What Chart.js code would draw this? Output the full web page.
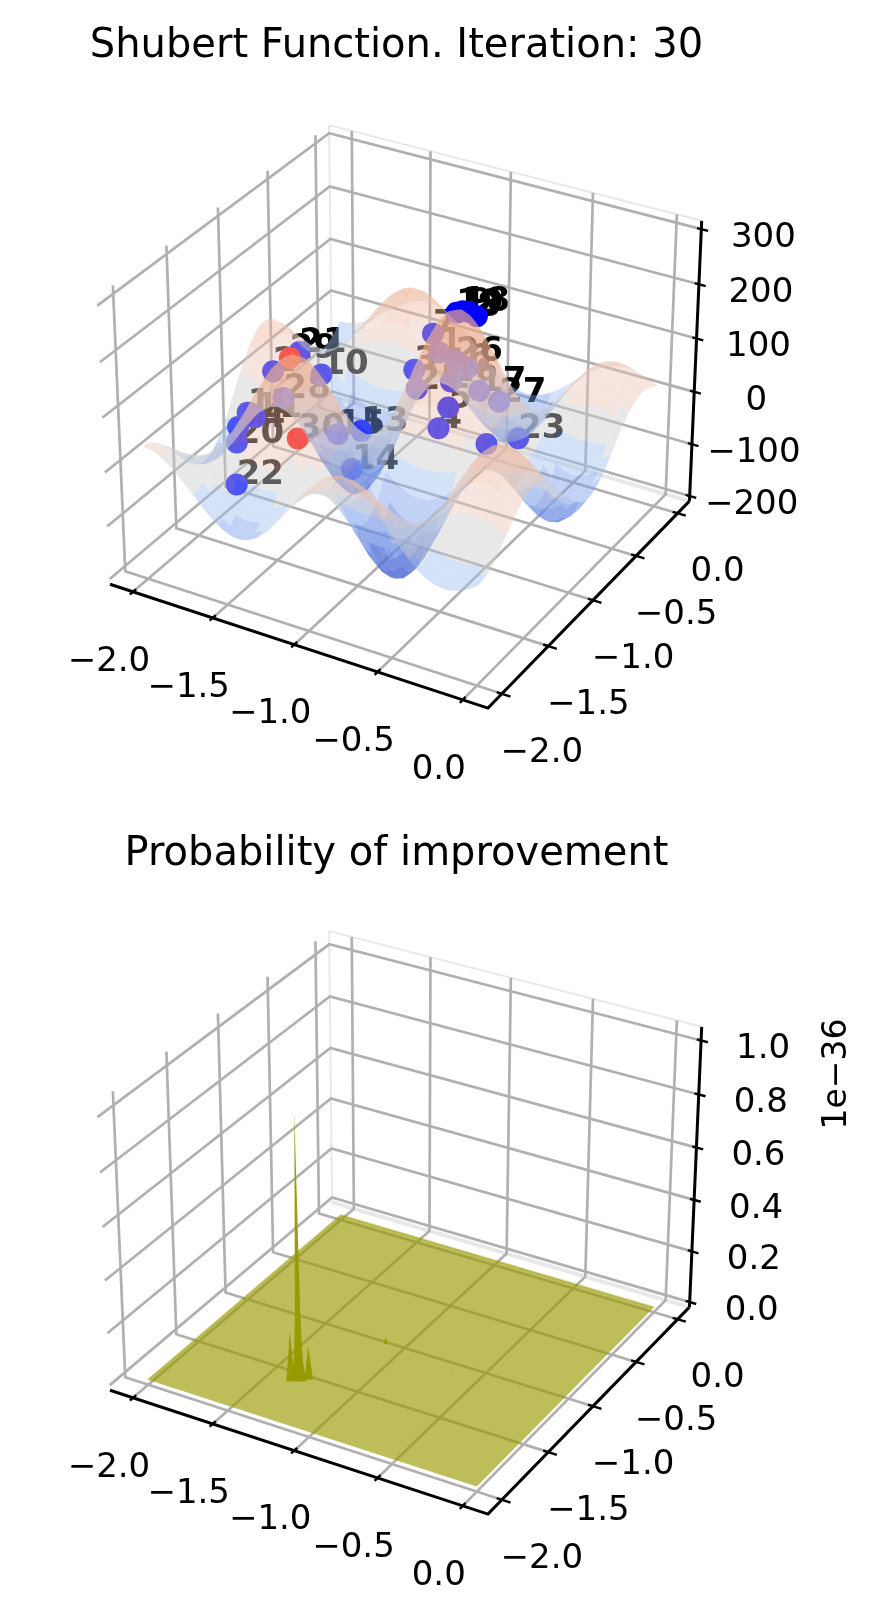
<!DOCTYPE html>
<html>
<head>
<meta charset="utf-8">
<title>Shubert Function</title>
<script src="https://cdn.jsdelivr.net/npm/chart.js@4/dist/chart.umd.js"></script>
<style>
  html, body { margin: 0; padding: 0; background: #fff; overflow: hidden; }
  canvas { position: absolute; left: 0; display: block; }
  #top { top: 0; }
  #bottom { top: 806px; }
</style>
</head>
<body>
<canvas id="top" width="871" height="806"></canvas>
<canvas id="bottom" width="871" height="809"></canvas>
<script>
// axis ticks
const xTicks = [-2, -1.5, -1, -0.5, 0];
const yTicks = [-2, -1.5, -1, -0.5, 0];
const xTickLabels = ['−2.0', '−1.5', '−1.0', '−0.5', '0.0'];
const yTickLabels = ['−2.0', '−1.5', '−1.0', '−0.5', '0.0'];
const zTicksTop = [-200, -100, 0, 100, 200, 300];
const zTickLabelsTop = ['−200', '−100', '0', '100', '200', '300'];
const zTicksBottom = [0, 0.2, 0.4, 0.6, 0.8, 1];
const zTickLabelsBottom = ['0.0', '0.2', '0.4', '0.6', '0.8', '1.0'];

// surface heights of the top panel, rows follow surfaceY, columns follow surfaceX
const surfaceX = [-2, -1.95, -1.9, -1.85, -1.8, -1.75, -1.7, -1.65, -1.6, -1.55, -1.5, -1.45, -1.4, -1.35, -1.3, -1.25, -1.2, -1.15, -1.1, -1.05, -1, -0.95, -0.9, -0.85, -0.8, -0.75, -0.7, -0.65, -0.6, -0.55, -0.5, -0.45, -0.4, -0.35, -0.3, -0.25, -0.2, -0.15, -0.1, -0.05, 0];
const surfaceY = [-2, -1.95, -1.9, -1.85, -1.8, -1.75, -1.7, -1.65, -1.6, -1.55, -1.5, -1.45, -1.4, -1.35, -1.3, -1.25, -1.2, -1.15, -1.1, -1.05, -1, -0.95, -0.9, -0.85, -0.8, -0.75, -0.7, -0.65, -0.6, -0.55, -0.5, -0.45, -0.4, -0.35, -0.3, -0.25, -0.2, -0.15, -0.1, -0.05, 0];
const surfaceZ = [
  [38,36,30,20,8,-7,-22,-38,-53,-65,-74,-79,-79,-74,-64,-50,-32,-12,9,31,50,66,79,87,89,87,79,67,52,34,16,-2,-19,-33,-43,-50,-52,-51,-46,-38,-27],
  [36,34,28,19,8,-6,-21,-36,-50,-61,-69,-74,-74,-69,-60,-47,-30,-11,9,29,47,62,74,82,84,82,74,63,49,32,15,-2,-18,-31,-41,-47,-49,-48,-43,-35,-26],
  [30,28,23,16,6,-5,-17,-30,-41,-51,-58,-62,-62,-58,-50,-39,-25,-9,7,24,39,52,62,68,70,68,62,53,41,27,12,-2,-15,-26,-34,-39,-41,-40,-36,-29,-22],
  [20,19,16,11,4,-3,-12,-20,-28,-35,-40,-42,-42,-39,-34,-27,-17,-6,5,16,27,36,42,46,48,46,42,36,28,18,9,-1,-10,-18,-23,-27,-28,-27,-24,-20,-15],
  [8,8,6,4,2,-1,-5,-8,-11,-14,-16,-17,-17,-16,-13,-10,-7,-2,2,6,11,14,17,18,19,18,17,14,11,7,3,0,-4,-7,-9,-11,-11,-11,-10,-8,-6],
  [-7,-6,-5,-3,-1,1,4,7,9,11,13,14,14,13,11,9,5,2,-2,-5,-9,-11,-14,-15,-15,-15,-14,-12,-9,-6,-3,0,3,6,7,9,9,9,8,6,5],
  [-22,-21,-17,-12,-5,4,13,22,31,38,43,46,46,43,37,29,19,7,-6,-18,-29,-39,-46,-51,-52,-51,-46,-39,-30,-20,-9,1,11,19,25,29,31,30,27,22,16],
  [-38,-36,-30,-20,-8,7,22,38,53,65,74,79,79,74,64,50,32,12,-10,-31,-50,-67,-79,-87,-90,-87,-79,-67,-52,-34,-16,2,19,33,43,50,53,51,46,38,28],
  [-53,-50,-41,-28,-11,9,31,53,73,90,103,109,109,102,89,69,44,16,-13,-42,-69,-92,-110,-120,-124,-120,-110,-93,-72,-48,-22,3,26,46,60,69,73,71,63,52,38],
  [-65,-61,-51,-35,-14,11,38,65,90,111,127,135,135,126,109,85,55,20,-16,-52,-86,-114,-135,-149,-153,-149,-136,-115,-89,-59,-27,4,32,56,74,86,90,87,78,64,47],
  [-74,-69,-58,-40,-16,13,43,74,103,127,144,153,153,144,124,97,62,23,-18,-60,-97,-129,-154,-169,-174,-169,-154,-131,-101,-67,-31,4,37,64,85,97,102,99,89,73,54],
  [-79,-74,-62,-42,-17,14,46,79,109,135,153,163,163,153,132,103,66,24,-20,-63,-104,-138,-164,-180,-185,-180,-164,-139,-108,-71,-33,5,39,68,90,104,109,105,95,78,57],
  [-79,-74,-62,-42,-17,14,46,79,109,135,153,163,163,153,132,103,66,24,-20,-63,-104,-138,-164,-180,-185,-180,-164,-139,-108,-71,-33,5,39,68,90,104,109,105,95,78,57],
  [-74,-69,-58,-39,-16,13,43,74,102,126,144,153,153,143,124,96,62,23,-18,-59,-97,-129,-153,-168,-174,-168,-154,-130,-101,-67,-31,4,37,64,84,97,102,99,89,73,53],
  [-64,-60,-50,-34,-13,11,37,64,89,109,124,132,132,124,107,83,54,20,-16,-51,-84,-112,-133,-146,-150,-146,-133,-113,-87,-58,-27,4,32,55,73,84,88,85,77,63,46],
  [-50,-47,-39,-27,-10,9,29,50,69,85,97,103,103,96,83,65,42,15,-12,-40,-65,-87,-103,-113,-117,-113,-103,-88,-68,-45,-21,3,25,43,57,65,69,66,60,49,36],
  [-32,-30,-25,-17,-7,5,19,32,44,55,62,66,66,62,54,42,27,10,-8,-26,-42,-56,-66,-73,-75,-73,-67,-57,-44,-29,-13,2,16,28,37,42,44,43,38,32,23],
  [-12,-11,-9,-6,-2,2,7,12,16,20,23,24,24,23,20,15,10,4,-3,-9,-15,-21,-24,-27,-28,-27,-25,-21,-16,-11,-5,1,6,10,13,16,16,16,14,12,9],
  [9,9,7,5,2,-2,-6,-10,-13,-16,-18,-20,-20,-18,-16,-12,-8,-3,2,8,12,17,20,22,22,22,20,17,13,9,4,-1,-5,-8,-11,-13,-13,-13,-11,-9,-7],
  [31,29,24,16,6,-5,-18,-31,-42,-52,-60,-63,-63,-59,-51,-40,-26,-9,8,25,40,53,64,70,72,70,64,54,42,28,13,-2,-15,-26,-35,-40,-42,-41,-37,-30,-22],
  [50,47,39,27,11,-9,-29,-50,-69,-86,-97,-104,-104,-97,-84,-65,-42,-15,12,40,66,87,104,114,118,114,104,88,68,45,21,-3,-25,-43,-57,-66,-69,-67,-60,-49,-36],
  [66,62,52,36,14,-11,-39,-67,-92,-114,-129,-138,-138,-129,-112,-87,-56,-21,17,53,87,116,138,152,156,152,139,118,91,60,28,-4,-33,-58,-76,-88,-92,-89,-80,-66,-48],
  [79,74,62,42,17,-14,-46,-79,-110,-135,-154,-164,-164,-153,-133,-103,-66,-24,20,64,104,138,164,181,186,181,165,140,108,72,33,-5,-39,-68,-90,-104,-109,-106,-95,-78,-57],
  [87,82,68,46,18,-15,-51,-87,-120,-149,-169,-180,-180,-168,-146,-113,-73,-27,22,70,114,152,181,198,204,198,181,154,119,79,36,-5,-43,-75,-99,-114,-120,-116,-104,-86,-63],
  [89,84,70,48,19,-15,-52,-90,-124,-153,-174,-185,-185,-174,-150,-117,-75,-28,22,72,118,156,186,204,211,204,186,158,122,81,37,-5,-45,-77,-102,-118,-124,-120,-108,-89,-65],
  [87,82,68,46,18,-15,-51,-87,-120,-149,-169,-180,-180,-168,-146,-113,-73,-27,22,70,114,152,181,198,204,198,181,154,119,79,36,-5,-43,-75,-99,-114,-120,-116,-104,-86,-63],
  [79,74,62,42,17,-14,-46,-79,-110,-136,-154,-164,-164,-154,-133,-103,-67,-25,20,64,104,139,165,181,186,181,165,140,108,72,33,-5,-39,-69,-91,-104,-109,-106,-95,-78,-57],
  [67,63,53,36,14,-12,-39,-67,-93,-115,-131,-139,-139,-130,-113,-88,-57,-21,17,54,88,118,140,154,158,154,140,119,92,61,28,-4,-33,-58,-77,-89,-93,-90,-81,-67,-49],
  [52,49,41,28,11,-9,-30,-52,-72,-89,-101,-108,-108,-101,-87,-68,-44,-16,13,42,68,91,108,119,122,119,108,92,71,47,22,-3,-26,-45,-59,-68,-72,-70,-62,-51,-38],
  [34,32,27,18,7,-6,-20,-34,-48,-59,-67,-71,-71,-67,-58,-45,-29,-11,9,28,45,60,72,79,81,79,72,61,47,31,14,-2,-17,-30,-39,-45,-48,-46,-41,-34,-25],
  [16,15,12,9,3,-3,-9,-16,-22,-27,-31,-33,-33,-31,-27,-21,-13,-5,4,13,21,28,33,36,37,36,33,28,22,14,7,-1,-8,-14,-18,-21,-22,-21,-19,-16,-12],
  [-2,-2,-2,-1,0,0,1,2,3,4,4,5,5,4,4,3,2,1,-1,-2,-3,-4,-5,-5,-5,-5,-5,-4,-3,-2,-1,0,1,2,3,3,3,3,3,2,2],
  [-19,-18,-15,-10,-4,3,11,19,26,32,37,39,39,37,32,25,16,6,-5,-15,-25,-33,-39,-43,-45,-43,-39,-33,-26,-17,-8,1,9,16,22,25,26,25,23,19,14],
  [-33,-31,-26,-18,-7,6,19,33,46,56,64,68,68,64,55,43,28,10,-8,-26,-43,-58,-68,-75,-77,-75,-69,-58,-45,-30,-14,2,16,29,38,43,45,44,40,33,24],
  [-43,-41,-34,-23,-9,7,25,43,60,74,85,90,90,84,73,57,37,13,-11,-35,-57,-76,-90,-99,-102,-99,-91,-77,-59,-39,-18,3,22,38,50,57,60,58,52,43,31],
  [-50,-47,-39,-27,-11,9,29,50,69,86,97,104,104,97,84,65,42,16,-13,-40,-66,-88,-104,-114,-118,-114,-104,-89,-68,-45,-21,3,25,43,57,66,69,67,60,50,36],
  [-52,-49,-41,-28,-11,9,31,53,73,90,102,109,109,102,88,69,44,16,-13,-42,-69,-92,-109,-120,-124,-120,-109,-93,-72,-48,-22,3,26,45,60,69,73,70,63,52,38],
  [-51,-48,-40,-27,-11,9,30,51,71,87,99,105,105,99,85,66,43,16,-13,-41,-67,-89,-106,-116,-120,-116,-106,-90,-70,-46,-21,3,25,44,58,67,70,68,61,50,37],
  [-46,-43,-36,-24,-10,8,27,46,63,78,89,95,95,89,77,60,38,14,-11,-37,-60,-80,-95,-104,-108,-104,-95,-81,-62,-41,-19,3,23,40,52,60,63,61,55,45,33],
  [-38,-35,-29,-20,-8,6,22,38,52,64,73,78,78,73,63,49,32,12,-9,-30,-49,-66,-78,-86,-89,-86,-78,-67,-51,-34,-16,2,19,33,43,50,52,50,45,37,27],
  [-27,-26,-22,-15,-6,5,16,28,38,47,54,57,57,53,46,36,23,9,-7,-22,-36,-48,-57,-63,-65,-63,-57,-49,-38,-25,-12,2,14,24,31,36,38,37,33,27,20]
];

// sampled points and their iteration labels, the blue point next to 23 shows no label
const sampleLabels = ['', '2', '3', '4', '5', '6', '7', '8', '9', '10', '11', '12', '13', '14', '15', '16', '17', '18', '19', '20', '21', '22', '23', '24', '25', '26', '27', '28', '29', '30', '1'];
const sampleX = [-0.50, -1.70, -1.08, -0.93, -0.86, -0.71, -0.91, -0.56, -0.62, -1.46, -1.82, -1.88, -1.40, -1.24, -1.35, -0.85, -0.81, -0.65, -0.67, -1.76, -1.54, -1.56, -0.52, -1.84, -1.10, -0.80, -0.66, -1.65, -1.55, -1.54, -0.86];
const sampleY = [-1.01, -1.19, -0.76, -0.76, -0.78, -0.84, -0.86, -1.02, -1.00, -1.09, -1.19, -1.17, -0.78, -1.15, -1.11, -0.77, -0.53, -1.01, -1.04, -1.47, -1.18, -1.79, -0.62, -1.33, -0.70, -0.81, -0.58, -1.17, -1.26, -1.21, -0.88];
const sampleZ = [23, 79, 71, -25, 23, 119, 167, 251, 251, 79, -17, -17, -69, -69, -19, 71, 21, 251, 251, -16, 127, -25, -29, -16, 25, 119, 21, 31, 127, -29, 140];
const sampleRed = ['29', '30'];

// probability of improvement spikes (z in units of 1e-36)
const spikeX = [-1.298, -1.298, -1.298, -1.334, -1.259, -1.084, -0.636];
const spikeY = [-1.612, -1.612, -1.612, -1.635, -1.574, -1.061, -1.126];
const spikeZ = [1.01, 0.5, 0.2, 0.19, 0.13, 0.03, 0.005];

// height bands of the surface colours
const bandLimits = [-150, -100, -60, -25, 25, 70, 120];
const bandColors = [
  'rgba(70,95,210,0.55)', 'rgba(85,115,220,0.5)', 'rgba(120,155,235,0.45)', 'rgba(160,190,240,0.45)',
  'rgba(205,205,205,0.45)', 'rgba(232,198,182,0.45)', 'rgba(238,185,160,0.45)', 'rgba(238,170,140,0.45)'
];

const FONT = '"DejaVu Sans"';
const limX = [-2.146, 0.146];
const limY = [-2.146, 0.146];
const limZTop = [-210, 315];
const limZBottom = [-0.02, 1.05];

// same view as a default mplot3d axes: elev 30, azim -60, dist 10
const boxNorm = 1.8294640721620434 / Math.sqrt(41);
const box = [4 * boxNorm, 4 * boxNorm, 3 * boxNorm];
const cosE = Math.cos(Math.PI / 6), sinE = 0.5;
const cosA = Math.cos(-Math.PI / 3), sinA = Math.sin(-Math.PI / 3);
const viewW = [cosE * cosA, cosE * sinA, sinE];
const viewU = [-sinA, cosA, 0];
const viewV = [-sinE * cosA, -sinE * sinA, cosE];

function dot(a, b) { return a[0] * b[0] + a[1] * b[1] + a[2] * b[2]; }

function toBox(p, limZ) {
  return [
    ((p[0] - limX[0]) / (limX[1] - limX[0]) - 0.5) * box[0],
    ((p[1] - limY[0]) / (limY[1] - limY[0]) - 0.5) * box[1],
    ((p[2] - limZ[0]) / (limZ[1] - limZ[0]) - 0.5) * box[2]
  ];
}

function depth(p, limZ) { return 10 - dot(toBox(p, limZ), viewW); }

// 3d point to the values of the x and y scales
function project(p, limZ) {
  const d = toBox(p, limZ);
  const w = 10 - dot(d, viewW);
  return {
    x: 110 + 3790 * (dot(d, viewU) / w + 0.0778),
    y: 708 - 3820 * (dot(d, viewV) / w + 0.0798)
  };
}

function polyline(points, limZ, color, width) {
  return {
    data: points.map(p => project(p, limZ)),
    showLine: true, fill: false, pointRadius: 0, tension: 0,
    borderColor: color, borderWidth: width, borderCapStyle: 'butt', clip: false
  };
}

function polygon(points, limZ, color) {
  return {
    data: points.map(p => project(p, limZ)),
    showLine: true, fill: 'shape', backgroundColor: color, pointRadius: 0, tension: 0,
    borderWidth: 0, borderColor: 'rgba(0,0,0,0)', clip: false
  };
}

// panes, grid, axis lines and tick marks
function frame(zTicks, limZ) {
  const [x0, x1] = limX, [y0, y1] = limY, [z0, z1] = limZ;
  const sets = [];
  const pale = '#e8e8e8', grid = '#b0b0b0';
  sets.push(polyline([[x0, y1, z1], [x1, y1, z1]], limZ, pale, 2));
  sets.push(polyline([[x0, y1, z0], [x1, y1, z0]], limZ, pale, 4));
  sets.push(polyline([[x0, y1, z0], [x0, y1, z1]], limZ, pale, 2));
  xTicks.forEach(t => sets.push(polyline([[t, y0, z0], [t, y1, z0], [t, y1, z1]], limZ, grid, 2.7)));
  yTicks.forEach(t => sets.push(polyline([[x1, t, z0], [x0, t, z0], [x0, t, z1]], limZ, grid, 2.7)));
  zTicks.forEach(t => sets.push(polyline([[x0, y0, t], [x0, y1, t], [x1, y1, t]], limZ, grid, 2.7)));
  sets.push(polyline([[x0, y0, z0], [x1, y0, z0], [x1, y1, z0]], limZ, '#000', 3));
  sets.push(polyline([[x1, y1, z0], [x1, y1, z1]], limZ, '#000', 3));
  xTicks.forEach(t => sets.push(polyline([[t, y0 - 0.03, z0], [t, y0 + 0.03, z0]], limZ, '#000', 2.4)));
  yTicks.forEach(t => sets.push(polyline([[x1 + 0.05, t, z0], [x1 - 0.03, t, z0]], limZ, '#000', 2.4)));
  zTicks.forEach(t => sets.push(polyline([[x1 + 0.04, y1, t], [x1 - 0.025, y1, t]], limZ, '#000', 2.4)));
  return sets;
}

function surfaceCells(limZ) {
  const cells = [];
  for (let j = 0; j < surfaceY.length - 1; j++) {
    for (let i = 0; i < surfaceX.length - 1; i++) {
      const corners = [
        [surfaceX[i], surfaceY[j], surfaceZ[j][i]],
        [surfaceX[i + 1], surfaceY[j], surfaceZ[j][i + 1]],
        [surfaceX[i + 1], surfaceY[j + 1], surfaceZ[j + 1][i + 1]],
        [surfaceX[i], surfaceY[j + 1], surfaceZ[j + 1][i]]
      ];
      const mean = corners.reduce((s, c) => s + c[2], 0) / 4;
      let band = bandLimits.findIndex(v => mean < v);
      if (band < 0) band = bandLimits.length;
      const mid = [(surfaceX[i] + surfaceX[i + 1]) / 2, (surfaceY[j] + surfaceY[j + 1]) / 2, mean];
      cells.push({ corners, color: bandColors[band], far: depth(mid, limZ) });
    }
  }
  cells.sort((a, b) => b.far - a.far);
  return cells.map(c => polygon(c.corners, limZ, c.color));
}

// keeps the array order as the painting order
function painted(sets) {
  sets.forEach((s, i) => { s.order = -i; });
  return sets;
}

// tick labels and other free text, placed through the scales
function tickText(labels3d, limZ) {
  return {
    id: 'tickText',
    afterDraw(chart) {
      const { ctx, scales } = chart;
      ctx.save();
      ctx.fillStyle = '#000';
      ctx.font = '34px ' + FONT;
      ctx.textAlign = 'center';
      ctx.textBaseline = 'middle';
      labels3d.forEach(l => {
        const q = project(l.at, limZ);
        ctx.fillText(l.text, scales.x.getPixelForValue(q.x) + l.dx, scales.y.getPixelForValue(q.y) + l.dy);
      });
      ctx.restore();
    }
  };
}

function axisLabels(zTicks, zLabels, limZ) {
  const out = [];
  xTicks.forEach((t, i) => out.push({ at: [t, limY[0], limZ[0]], text: xTickLabels[i], dx: -24, dy: 70 }));
  yTicks.forEach((t, i) => out.push({ at: [limX[1], t, limZ[0]], text: yTickLabels[i], dx: 40, dy: 59 }));
  zTicks.forEach((t, i) => out.push({ at: [limX[1], limY[1], t], text: zLabels[i], dx: 62, dy: 9 }));
  return out;
}

// the number labels sit under the markers and the surface
const sampleText = {
  id: 'sampleText',
  beforeDatasetDraw(chart, args) {
    if (chart.data.datasets[args.index].id !== 'samples') return;
    const { ctx, scales } = chart;
    const points = chart.data.datasets[args.index].data;
    ctx.save();
    ctx.fillStyle = '#000';
    ctx.font = 'bold 34px ' + FONT;
    ctx.textAlign = 'left';
    ctx.textBaseline = 'alphabetic';
    points.forEach((p, i) => {
      ctx.fillText(sampleLabels[i], scales.x.getPixelForValue(p.x), scales.y.getPixelForValue(p.y));
    });
    ctx.restore();
  }
};

const exponentText = {
  id: 'exponentText',
  afterDraw(chart) {
    const { ctx } = chart;
    ctx.save();
    ctx.translate(837, 268);
    ctx.rotate(-Math.PI / 2);
    ctx.fillStyle = '#000';
    ctx.font = '33px ' + FONT;
    ctx.textAlign = 'center';
    ctx.textBaseline = 'middle';
    ctx.fillText('1e−36', 0, 0);
    ctx.restore();
  }
};

const TITLE_SIZE = 40;

function panel(id, title, titleTop, height, datasets, plugins) {
  const titleHeight = titleTop + TITLE_SIZE + 12;
  return new Chart(document.getElementById(id), {
    type: 'scatter',
    data: { datasets: painted(datasets) },
    plugins,
    options: {
      responsive: false,
      devicePixelRatio: 1,
      animation: false,
      events: [],
      layout: { autoPadding: false, padding: { left: 0, right: 78, top: 0, bottom: 0 } },
      scales: {
        x: { type: 'linear', display: false, min: 0, max: 793 },
        y: { type: 'linear', display: false, reverse: true, min: titleHeight, max: height }
      },
      plugins: {
        legend: { display: false },
        tooltip: { enabled: false },
        title: {
          display: true,
          text: title,
          color: '#000',
          font: { family: 'DejaVu Sans', size: TITLE_SIZE, weight: 'normal', lineHeight: 1 },
          padding: { top: titleTop, bottom: 12 }
        }
      }
    }
  });
}

// top panel
const samples = {
  id: 'samples',
  data: sampleX.map((x, i) => project([x, sampleY[i], sampleZ[i]], limZTop)),
  showLine: false,
  pointRadius: 11,
  pointBorderWidth: 0,
  pointBackgroundColor: sampleLabels.map(l => sampleRed.includes(l) ? '#ff0000' : '#0000ff'),
  clip: false
};

panel('top', 'Shubert Function. Iteration: 30', 27, 806,
  [...frame(zTicksTop, limZTop), samples, ...surfaceCells(limZTop)],
  [sampleText, tickText(axisLabels(zTicksTop, zTickLabelsTop, limZTop), limZTop)]);

// bottom panel
const planeCorners = [[-2, -2, 0], [0, -2, 0], [0, 0, 0], [-2, 0, 0]];
const spikeSpread = [0.016, 0.024, 0.034, 0.02, 0.02, 0.009, 0.005];
const spikes = spikeX.map((x, i) => polygon([
  [x - spikeSpread[i], spikeY[i] - 0.6 * spikeSpread[i], 0],
  [x, spikeY[i], spikeZ[i]],
  [x + spikeSpread[i], spikeY[i] + 0.6 * spikeSpread[i], 0]
], limZBottom, 'rgba(153,153,0,0.95)'));

panel('bottom', 'Probability of improvement', 29, 809,
  [...frame(zTicksBottom, limZBottom),
    polygon(planeCorners, limZBottom, 'rgba(153,153,0,0.65)'),
    polyline([[-2, -2, 0], [-2, 0, 0], [0, 0, 0]], limZBottom, 'rgba(153,153,0,0.35)', 2),
    ...spikes],
  [tickText(axisLabels(zTicksBottom, zTickLabelsBottom, limZBottom), limZBottom), exponentText]);
</script>
</body>
</html>
